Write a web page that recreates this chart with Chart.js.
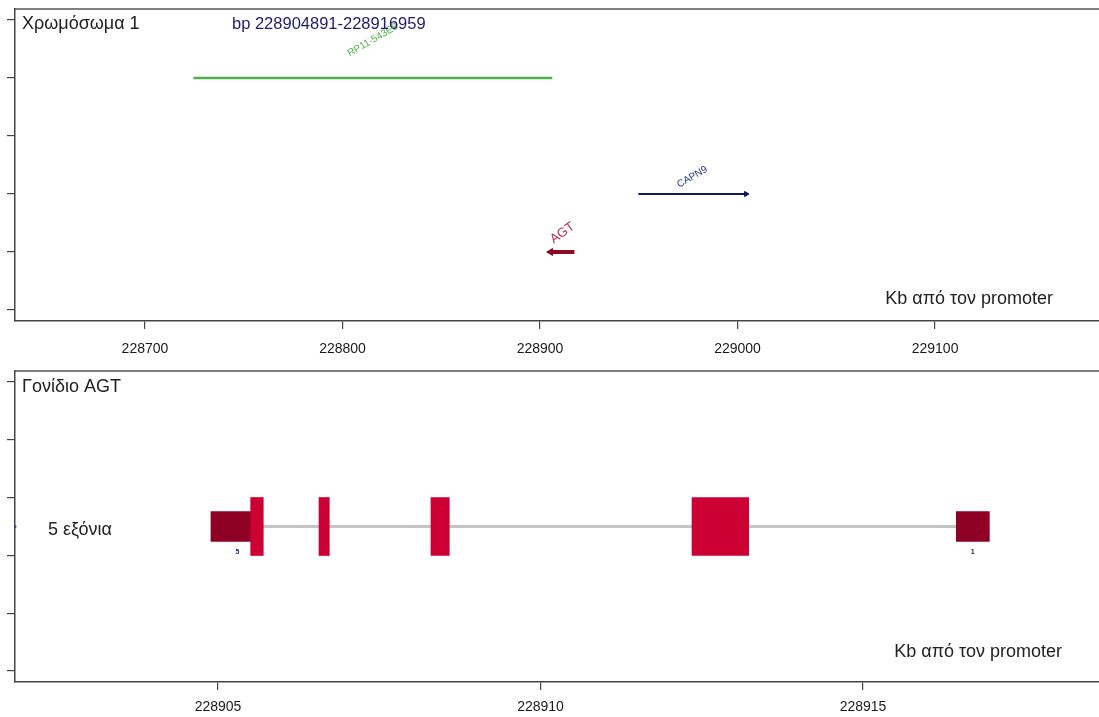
<!DOCTYPE html>
<html>
<head>
  <meta charset="utf-8">
  <!-- Chart.js from CDN -->
  <script src="https://cdn.jsdelivr.net/npm/chart.js@4.4.1/dist/chart.umd.min.js"></script>
  <title>AGT</title>
  <style>
    body { margin: 0; background: #fff; }
    canvas { display: block; }
  </style>
</head>
<body>
  <canvas id="chromChart" width="1099" height="360"></canvas>
  <canvas id="geneChart" width="1099" height="357"></canvas>

  <script>
    // ---- data ----
    // top panel: genes near AGT (kb)
    const topTicks = [228700, 228800, 228900, 229000, 229100];
    const topTickLabels = ["228700", "228800", "228900", "229000", "229100"];
    const rowTicks = [0, 1, 2, 3, 4, 5];

    const geneNames = ["RP11-543E8", "CAPN9", "AGT"];
    const geneStart = [228724.5, 228949.8, 228905.4];
    const geneEnd = [228906.2, 229004.3, 228917.4];
    const geneRow = [4, 2, 1];
    const geneStrand = [0, 1, -1]; // 1 forward, -1 reverse, 0 no arrow

    // bottom panel: AGT exons (kb)
    const bottomTicks = [228905, 228910, 228915];
    const bottomTickLabels = ["228905", "228910", "228915"];
    const exonRow = 2.5;
    const cdsStart = [228905.507, 228906.566, 228908.302, 228912.349];
    const cdsEnd = [228905.702, 228906.726, 228908.586, 228913.228];
    const utrStart = [228904.891, 228916.447];
    const utrEnd = [228905.507, 228916.959];
    const exonNumbers = ["5", "1"];
    const exonNumberAt = [228905.30, 228916.70];
    const intron = [228905.507, 228916.447];

    // ---- styles ----
    const geneColors = ["#4fae48", "#111a5c", "#8c0a26"];
    const geneWidths = [2.5, 2, 4];
    const labelColors = ["#4fae48", "#2a327e", "#b0304e"];
    const labelFonts = ["10px Arial, 'Liberation Sans'", "10px Arial, 'Liberation Sans'", "13px Arial, 'Liberation Sans'"];
    const labelLift = [38, 17, 19];
    const labelAngle = [30, 30, 36];

    const axisColor = "#444";
    const font = "Arial, 'Liberation Sans', sans-serif";

    // axis helpers
    function yAxis() {
      return {
        type: "linear",
        min: -0.19,
        max: 5.19,
        offset: false,
        afterBuildTicks: (s) => { s.ticks = rowTicks.map(v => ({ value: v })); },
        afterFit: (s) => { s.width = 15; },
        ticks: { display: false },
        grid: { offset: false, drawOnChartArea: false, drawTicks: true, tickLength: 8, color: axisColor, lineWidth: 1.2 },
        border: { display: true, color: axisColor, width: 1.5 }
      };
    }
    function xAxis(min, max, ticks, labels, h, pad) {
      return {
        type: "linear",
        min: min,
        max: max,
        offset: false,
        afterBuildTicks: (s) => { s.ticks = ticks.map(v => ({ value: v })); },
        afterFit: (s) => { s.height = h; },
        ticks: {
          autoSkip: false,
          maxRotation: 0,
          padding: pad,
          color: "#1a1a1a",
          font: { family: font, size: 14 },
          callback: (v, i) => labels[i]
        },
        grid: { offset: false, drawOnChartArea: false, drawTicks: true, tickLength: 8, color: axisColor, lineWidth: 1.2 },
        border: { display: true, color: axisColor, width: 1.5 }
      };
    }

    // draws the top frame line and the panel texts
    function panelPlugin(texts, extra) {
      return {
        id: "panel",
        afterDatasetsDraw(chart) {
          const ctx = chart.ctx;
          const a = chart.chartArea;
          ctx.save();
          ctx.strokeStyle = "#555";
          ctx.lineWidth = 1.5;
          ctx.beginPath();
          ctx.moveTo(a.left, a.top);
          ctx.lineTo(chart.width, a.top);
          ctx.stroke();
          if (extra) extra(chart, ctx);
          texts.forEach(t => {
            ctx.font = t.font;
            ctx.fillStyle = t.color;
            ctx.textAlign = t.align || "left";
            ctx.textBaseline = "alphabetic";
            ctx.fillText(t.text, t.x, t.y);
          });
          ctx.restore();
        }
      };
    }

    // ---- top chart ----
    const topDatasets = geneNames.map((name, i) => {
      const radii = [0, 0];
      const rot = [0, 0];
      if (geneStrand[i] === 1) { radii[1] = 3; rot[1] = 90; }
      if (geneStrand[i] === -1) { radii[0] = 4; rot[0] = -90; }
      return {
        label: name,
        data: [{ x: geneStart[i], y: geneRow[i] }, { x: geneEnd[i], y: geneRow[i] }],
        borderColor: geneColors[i],
        backgroundColor: geneColors[i],
        borderWidth: geneWidths[i],
        pointRadius: radii,
        pointStyle: "triangle",
        rotation: rot,
        pointBorderWidth: 1
      };
    });

    new Chart(document.getElementById("chromChart"), {
      type: "line",
      data: { datasets: topDatasets },
      options: {
        responsive: false,
        animation: false,
        devicePixelRatio: 1,
        layout: { autoPadding: false, padding: { top: 9, left: 0, right: 0, bottom: 0 } },
        plugins: { legend: { display: false }, tooltip: { enabled: false } },
        scales: {
          x: xAxis(228634.2, 229183.0, topTicks, topTickLabels, 39, 12),
          y: yAxis()
        }
      },
      plugins: [panelPlugin([
        { text: "Χρωμόσωμα 1", x: 22, y: 29, font: "18px " + font, color: "#222" },
        { text: "bp 228904891-228916959", x: 232, y: 29, font: "16.5px " + font, color: "#1c1c6b" },
        { text: "Kb από τον promoter", x: 1053, y: 304, font: "18px " + font, color: "#222", align: "right" }
      ], (chart, ctx) => {
        // rotated gene names above each gene
        const xs = chart.scales.x, ys = chart.scales.y;
        geneNames.forEach((name, i) => {
          const mx = xs.getPixelForValue((geneStart[i] + geneEnd[i]) / 2);
          const my = ys.getPixelForValue(geneRow[i]) - labelLift[i];
          ctx.save();
          ctx.translate(mx, my);
          ctx.rotate(-labelAngle[i] * Math.PI / 180);
          ctx.font = labelFonts[i];
          ctx.fillStyle = labelColors[i];
          ctx.textAlign = "center";
          ctx.textBaseline = "middle";
          ctx.fillText(name, 0, 0);
          ctx.restore();
        });
      })]
    });

    // ---- bottom chart ----
    const bottomData = {
      datasets: [
        {
          type: "line",
          label: "intron",
          data: [{ x: intron[0], y: exonRow }, { x: intron[1], y: exonRow }],
          borderColor: "#c4c4c4",
          borderWidth: 3,
          pointRadius: 0,
          order: 3
        },
        {
          type: "bar",
          label: "UTR",
          indexAxis: "y",
          data: utrStart.map((s, i) => ({ x: [s, utrEnd[i]], y: exonRow })),
          backgroundColor: "#8e0024",
          borderWidth: 0,
          barThickness: 30,
          grouped: false,
          order: 2
        },
        {
          type: "bar",
          label: "CDS",
          indexAxis: "y",
          data: cdsStart.map((s, i) => ({ x: [s, cdsEnd[i]], y: exonRow })),
          backgroundColor: "#cc0033",
          borderWidth: 0,
          barThickness: 58,
          grouped: false,
          order: 1
        },
        {
          type: "line",
          label: "start",
          data: [{ x: 228901.853, y: exonRow }],
          pointRadius: 1.5,
          pointBackgroundColor: "#3344cc",
          pointBorderWidth: 0,
          showLine: false,
          order: 0
        }
      ]
    };

    new Chart(document.getElementById("geneChart"), {
      type: "bar",
      data: bottomData,
      options: {
        responsive: false,
        animation: false,
        devicePixelRatio: 1,
        layout: { autoPadding: false, padding: { top: 11, left: 0, right: 0, bottom: 0 } },
        plugins: { legend: { display: false }, tooltip: { enabled: false } },
        scales: {
          x: xAxis(228901.853, 228918.659, bottomTicks, bottomTickLabels, 35, 9),
          y: yAxis()
        }
      },
      plugins: [panelPlugin([
        { text: "Γονίδιο AGT", x: 22, y: 32, font: "18px " + font, color: "#222" },
        { text: "5 εξόνια", x: 48, y: 175, font: "18px " + font, color: "#222" },
        { text: "Kb από τον promoter", x: 1062, y: 297, font: "18px " + font, color: "#222", align: "right" }
      ], (chart, ctx) => {
        // exon numbers under the end exons
        const xs = chart.scales.x, ys = chart.scales.y;
        ctx.font = "bold 7px " + font;
        ctx.fillStyle = "#1a2a6a";
        ctx.textAlign = "center";
        ctx.textBaseline = "middle";
        exonNumbers.forEach((n, i) => {
          ctx.fillText(n, xs.getPixelForValue(exonNumberAt[i]), ys.getPixelForValue(exonRow) + 26);
        });
      })]
    });
  </script>
</body>
</html>
